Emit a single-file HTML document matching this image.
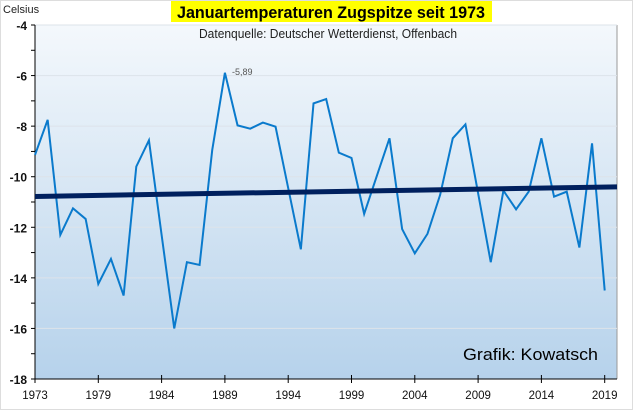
<!DOCTYPE html>
<html><head><meta charset="utf-8"><style>
body{margin:0;background:#fff;}
svg{display:block;font-family:"Liberation Sans",sans-serif;}
</style></head><body>
<svg width="640" height="414" viewBox="0 0 640 414">
<defs><linearGradient id="bg" x1="0" y1="0" x2="0" y2="1"><stop offset="0" stop-color="#f4f8fc"/><stop offset="1" stop-color="#b6d2eb"/></linearGradient></defs>
<rect x="0.5" y="0.5" width="632" height="409" fill="#fff" stroke="#ddd"/>
<rect x="35" y="25" width="582" height="354" fill="url(#bg)"/>
<line x1="617" y1="25" x2="617" y2="379" stroke="#999"/>
<g id="grid"></g>
<g id="axes"></g>
<polyline id="series" fill="none" stroke="#0a7acc" stroke-width="2"/>
<line id="trend" stroke="#00205e" stroke-width="5"/>
<text x="232" y="75" font-size="9" fill="#555">-5,89</text>
<rect x="171" y="1" width="321" height="21" fill="#ffff00"/>
<text x="331" y="18" text-anchor="middle" font-size="17" font-weight="bold" fill="#000" textLength="308" lengthAdjust="spacingAndGlyphs">Januartemperaturen Zugspitze seit 1973</text>
<text x="328" y="38" text-anchor="middle" font-size="13" fill="#222" textLength="258" lengthAdjust="spacingAndGlyphs">Datenquelle: Deutscher Wetterdienst, Offenbach</text>
<text x="3" y="13" font-size="11" fill="#222">Celsius</text>
<text x="463" y="360" font-size="17" fill="#000" textLength="135" lengthAdjust="spacingAndGlyphs">Grafik: Kowatsch</text>
</svg>
<script>
const values=[-9.14,-7.75,-12.3,-11.25,-11.67,-14.24,-13.25,-14.7,-9.6,-8.56,-12.3,-16.0,-13.38,-13.49,-8.94,-5.89,-7.97,-8.1,-7.86,-8.02,-10.45,-12.87,-7.1,-6.93,-9.05,-9.26,-11.47,-9.97,-8.48,-12.07,-13.03,-12.26,-10.72,-8.48,-7.93,-10.65,-13.38,-10.55,-11.29,-10.59,-8.48,-10.79,-10.59,-12.8,-8.68,-14.5];
const trendValues=[-10.78,-10.4];
const yTicks=[-4,-6,-8,-10,-12,-14,-16,-18];
const xTickLabels=["1973","1979","1984","1989","1994","1999","2004","2009","2014","2019"];
const NS="http://www.w3.org/2000/svg";
const step=12.66;
function xs(i){return 35+i*step;}
function ys(v){return 25+(-4-v)*25.286;}
function mk(t,a,parent){const e=document.createElementNS(NS,t);for(const k in a)e.setAttribute(k,a[k]);parent.appendChild(e);return e;}
const grid=document.getElementById('grid'),axes=document.getElementById('axes');
yTicks.forEach(v=>{
  if(v>-18){const g=mk('line',{x1:35,x2:617,y1:ys(v),y2:ys(v),stroke:'#dde3ea','stroke-width':1},grid);
  
  }
  const t=mk('text',{x:27,y:ys(v)+5,'text-anchor':'end','font-size':12,'font-weight':'bold',fill:'#111'},axes);
  t.textContent=v;
  
  
});
for(let v=-4;v>=-18;v--){const l=mk('line',{x1:31,x2:35,y1:ys(v),y2:ys(v),stroke:'#000'},axes);
  
  }
const ya=mk('line',{x1:35,x2:35,y1:25,y2:379,stroke:'#000'},axes);


const xa=mk('line',{x1:35,x2:617,y1:379,y2:379,stroke:'#000'},axes);


xTickLabels.forEach((lab,k)=>{
  const x=xs(k*5);
  const l=mk('line',{x1:x,x2:x,y1:375,y2:383,stroke:'#000'},axes);
  
  
  const t=mk('text',{x:x,y:399,'text-anchor':'middle','font-size':11.5,fill:'#111'},axes);
  t.textContent=lab;
  
  
});
document.getElementById('series').setAttribute('points',values.map((v,i)=>xs(i)+','+ys(v)).join(' '));
const tr=document.getElementById('trend');
tr.setAttribute('x1',35);tr.setAttribute('y1',ys(trendValues[0]));
tr.setAttribute('x2',617);tr.setAttribute('y2',ys(trendValues[1]));
</script>
</body></html>
